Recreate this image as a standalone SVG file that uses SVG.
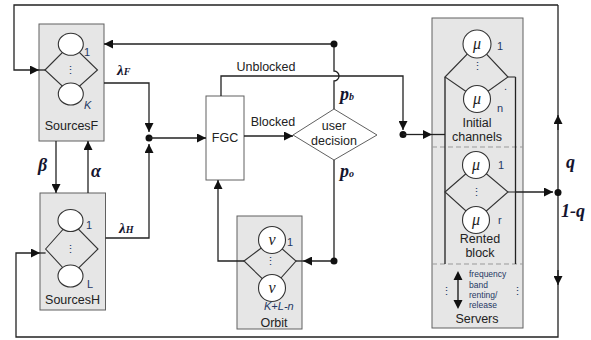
<svg xmlns="http://www.w3.org/2000/svg" width="591" height="340" viewBox="0 0 591 340">
<defs>
<style>
.box{fill:#e6e6e6;stroke:#606060;stroke-width:1}
.wbox{fill:#fff;stroke:#606060;stroke-width:1}
.ln{fill:none;stroke:#222;stroke-width:1.3}
.thin{fill:none;stroke:#333;stroke-width:1.1}
.circ{fill:#fff;stroke:#333;stroke-width:1.1}
.dash{fill:none;stroke:#999;stroke-width:1;stroke-dasharray:5,3}
.t{font-family:"Liberation Sans",Arial,sans-serif;font-size:12.5px;fill:#222}
.s{font-family:"Liberation Sans",Arial,sans-serif;font-size:11px;fill:#1f3864}
.si{font-family:"Liberation Sans",Arial,sans-serif;font-size:11px;font-style:italic;fill:#1f3864}
.xs{font-family:"Liberation Sans",Arial,sans-serif;font-size:8.5px;fill:#1f3864}
.g{font-family:"Liberation Serif","Times New Roman",serif;font-weight:bold;font-style:italic;font-size:18px;fill:#14142e}
.gl{font-size:15px}
.gs{font-size:10px}
.mu{font-family:"Liberation Serif","Times New Roman",serif;font-style:italic;font-size:16px;fill:#222}
.dot{fill:#111}
</style>
<marker id="ah" viewBox="0 0 10 10" refX="10" refY="5" markerWidth="11" markerHeight="9" markerUnits="userSpaceOnUse" orient="auto">
<path d="M0,0 L10,5 L0,10 z" fill="#111"/>
</marker>
</defs>

<g id="sourcesF">
<rect class="box" x="39" y="24" width="65" height="117"/>
<polygon class="thin" points="45,70 70.8,44 97.5,70 70.8,94"/>
<ellipse class="circ" cx="70.8" cy="44.3" rx="12.5" ry="11"/>
<ellipse class="circ" cx="70.8" cy="94" rx="12.5" ry="11"/>
<text class="s" x="70.8" y="74" text-anchor="middle">⋮</text>
<text class="s" x="84" y="56">1</text>
<text class="si" x="84" y="109">K</text>
<text class="t" x="71.5" y="130" text-anchor="middle">SourcesF</text>
</g>

<g id="sourcesH">
<rect class="box" x="40" y="193" width="65.5" height="117"/>
<polygon class="thin" points="45.6,249 70.5,221 98,249 70.5,276"/>
<ellipse class="circ" cx="70.5" cy="220.5" rx="12.5" ry="11"/>
<ellipse class="circ" cx="70.5" cy="276" rx="12.5" ry="11"/>
<text class="s" x="70.5" y="253" text-anchor="middle">⋮</text>
<text class="s" x="86" y="229">1</text>
<text class="s" x="87" y="288">L</text>
<text class="t" x="72.5" y="304" text-anchor="middle">SourcesH</text>
</g>

<g id="fgc">
<rect class="wbox" x="206" y="96" width="38" height="84"/>
<text class="t" x="225" y="142" text-anchor="middle">FGC</text>
</g>

<g id="decision">
<polygon class="wbox" points="293,135 334,109 377,135 334,160"/>
<text class="t" x="334" y="130" text-anchor="middle">user</text>
<text class="t" x="334" y="145" text-anchor="middle">decision</text>
</g>

<g id="orbit">
<rect class="box" x="237" y="216" width="65" height="113"/>
<polygon class="thin" points="244,261 272,240 296,261 272,288"/>
<circle class="circ" cx="272" cy="240" r="13.5"/>
<circle class="circ" cx="272" cy="288" r="13.5"/>
<text class="mu" x="272" y="245" text-anchor="middle">ν</text>
<text class="mu" x="272" y="293" text-anchor="middle">ν</text>
<text class="s" x="270.5" y="265" text-anchor="middle">⋮</text>
<text class="s" x="287" y="246">1</text>
<text class="si" x="264" y="310">K+L-n</text>
<text class="t" x="274" y="327" text-anchor="middle">Orbit</text>
</g>

<g id="servers">
<rect class="box" x="432" y="18" width="91" height="310"/>
<line class="dash" x1="432" y1="147" x2="523" y2="147"/>
<line class="dash" x1="432" y1="264" x2="523" y2="264"/>
<path class="ln" d="M445,77 V264 M515.5,77 V264"/>
<polygon class="thin" points="445,77 477,44 508,77 477,99"/>
<path class="thin" d="M508,77 H515.5"/>
<circle class="circ" cx="477" cy="44" r="14"/>
<circle class="circ" cx="477" cy="99" r="13.5"/>
<text class="mu" x="477" y="49" text-anchor="middle">μ</text>
<text class="mu" x="477" y="104" text-anchor="middle">μ</text>
<text class="s" x="477" y="70" text-anchor="middle">⋮</text>
<text class="s" x="497" y="50">1</text>
<text class="s" x="497" y="112">n</text>
<text class="s" x="504" y="90">.</text>
<text class="t" x="477" y="127" text-anchor="middle">Initial</text>
<text class="t" x="477" y="141" text-anchor="middle">channels</text>
<polygon class="thin" points="445,192 476,165 508,192 476,220"/>
<path class="thin" d="M508,192 H515.5"/>
<circle class="circ" cx="476" cy="165" r="13.5"/>
<circle class="circ" cx="476" cy="220" r="13.5"/>
<text class="mu" x="476" y="170" text-anchor="middle">μ</text>
<text class="mu" x="476" y="225" text-anchor="middle">μ</text>
<text class="s" x="476" y="196" text-anchor="middle">⋮</text>
<text class="s" x="498" y="169">1</text>
<text class="s" x="498" y="224">r</text>
<text class="t" x="480" y="243" text-anchor="middle">Rented</text>
<text class="t" x="480" y="257" text-anchor="middle">block</text>
<text class="s" x="446" y="295" text-anchor="middle">⋮</text>
<text class="s" x="517" y="295" text-anchor="middle">⋮</text>
<path d="M458,271 L462.5,280 L453.5,280 z M458,309 L462.5,300 L453.5,300 z" fill="#111"/>
<line x1="458" y1="278" x2="458" y2="302" stroke="#111" stroke-width="1.3"/>
<text class="xs" x="469" y="277">frequency</text>
<text class="xs" x="469" y="288">band</text>
<text class="xs" x="469" y="298">renting/</text>
<text class="xs" x="469" y="308">release</text>
<text class="t" x="477" y="323" text-anchor="middle">Servers</text>
</g>

<g id="connectors">
<path class="ln" d="M558,5 H14 V70 H39" marker-end="url(#ah)"/>
<path class="ln" d="M39,70 H45"/>
<path class="ln" d="M558,5 V337 H16 V253 H40" marker-end="url(#ah)"/>
<path class="ln" d="M40,253 H45.6"/>
<path class="ln" d="M558,130 V115" marker-end="url(#ah)"/>
<path class="ln" d="M558,270 V285" marker-end="url(#ah)"/>
<path class="ln" d="M515.5,192 H553" marker-end="url(#ah)"/>
<circle class="dot" cx="558" cy="192.5" r="3.5"/>
<path class="ln" d="M56,141 V193" marker-end="url(#ah)"/>
<path class="ln" d="M88,193 V141" marker-end="url(#ah)"/>
<path class="ln" d="M104,83 H149 V132" marker-end="url(#ah)"/>
<path class="ln" d="M105.5,238 H149 V144" marker-end="url(#ah)"/>
<circle class="dot" cx="149" cy="138" r="3.5"/>
<path class="ln" d="M149,138 H206" marker-end="url(#ah)"/>
<path class="ln" d="M244,136 H293" marker-end="url(#ah)"/>
<path class="ln" d="M221,96 V76 H403 V130" marker-end="url(#ah)"/>
<circle class="dot" cx="403" cy="134.5" r="3.5"/>
<path class="ln" d="M403,134.5 H432" marker-end="url(#ah)"/>
<path class="ln" d="M432,134.5 H445"/>
<path class="ln" d="M334,109 V81 A5,5 0 0 0 334,71 V44 H104" marker-end="url(#ah)"/>
<circle class="dot" cx="334" cy="44" r="3.5"/>
<path class="ln" d="M334,160 V261 H303" marker-end="url(#ah)"/>
<path class="ln" d="M303,261 H296"/>
<circle class="dot" cx="334" cy="261" r="3.5"/>
<path class="ln" d="M244,261 H218 V180" marker-end="url(#ah)"/>
</g>

<g id="labels">
<text class="t" x="266" y="71" text-anchor="middle">Unblocked</text>
<text class="t" x="273" y="126" text-anchor="middle">Blocked</text>
<text class="g gl" x="117" y="75">λ<tspan class="gs">F</tspan></text>
<text class="g gl" x="119" y="233">λ<tspan class="gs">H</tspan></text>
<text class="g" x="38" y="171">β</text>
<text class="g" x="91" y="177">α</text>
<text class="g" x="340" y="100">p<tspan class="gs">b</tspan></text>
<text class="g" x="340" y="177">p<tspan class="gs">o</tspan></text>
<text class="g" x="566" y="168">q</text>
<text class="g" x="561" y="217">1-q</text>
</g>
</svg>
